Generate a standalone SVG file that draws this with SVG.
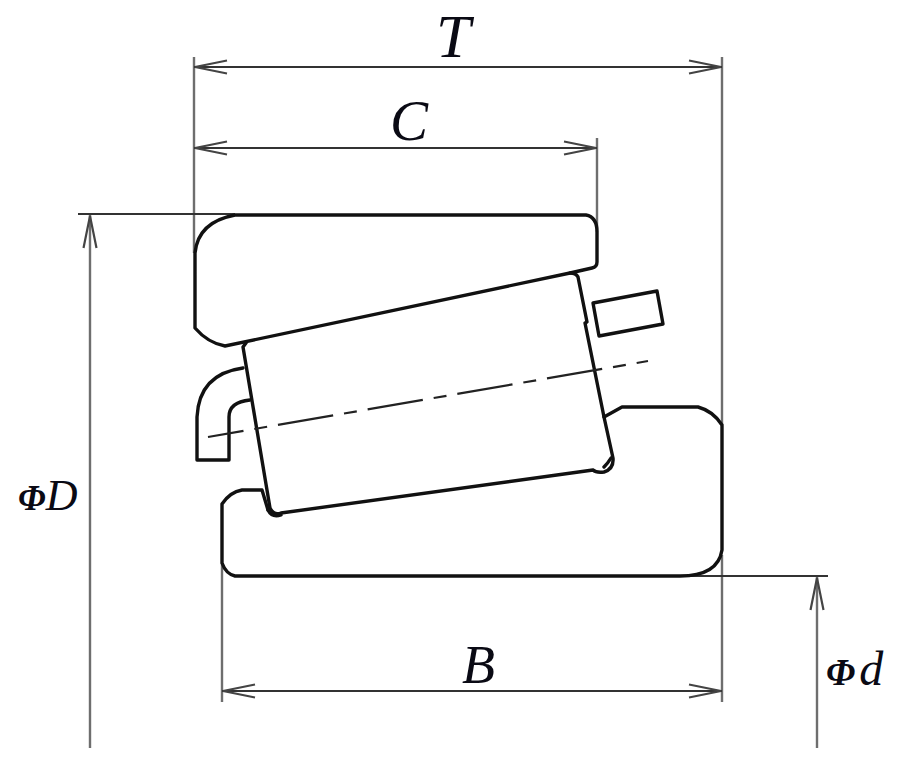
<svg xmlns="http://www.w3.org/2000/svg" width="907" height="772" viewBox="0 0 907 772">
<style>
.part{fill:none;stroke:#111;stroke-width:3.4;stroke-linejoin:round;stroke-linecap:round}
.ext{fill:none;stroke:#6e6e6e;stroke-width:2.4}
.dim{fill:none;stroke:#333;stroke-width:2}
.cl{fill:none;stroke:#222;stroke-width:2.2;stroke-dasharray:56 11 13 11;stroke-dashoffset:20}
.lab{font-family:"Liberation Serif","Times New Roman",serif;font-style:italic;fill:#0a0a14}
.phi{font-weight:bold}
</style>
<defs>
<marker id="arrow" markerUnits="userSpaceOnUse" markerWidth="36" markerHeight="18" refX="35" refY="9" orient="auto-start-reverse" viewBox="0 0 36 18">
<path d="M2 2.5 L34 9 L2 15.5" fill="none" stroke="#444" stroke-width="2.2"/>
</marker>
</defs>
<rect width="907" height="772" fill="#fff"/>
<g id="connectors">
<path class="ext" d="M194 57V253M722 57V425M597 138V232M222 563V702M722 555V702"/>
<path class="dim" d="M78 214H235M680 576H828"/>
<path class="dim" d="M194 67H722" marker-start="url(#arrow)" marker-end="url(#arrow)"/>
<path class="dim" d="M194 148H597" marker-start="url(#arrow)" marker-end="url(#arrow)"/>
<path class="dim" d="M222 691H722" marker-start="url(#arrow)" marker-end="url(#arrow)"/>
<path class="ext" d="M90 748V215" marker-end="url(#arrow)"/>
<path class="ext" d="M817 748V577" marker-end="url(#arrow)"/>
</g>
<g id="outer-ring"><path class="part" d="M235 215H586Q597 217 597 232V262Q597 267 592 268L570 273L225 346Q208 343 195 328V253Q198 222 235 215Z"/></g>
<g id="roller"><path class="part" d="M246 343L243 347L270 508Q274 516 281 513L593 470M578 277L587 322L585 323L604 417L613 458Q614 469 604 472Q596 473 593 470M570 273Q576 273 578 277"/>
<path class="part" d="M268 510Q272 518 281 515M604 467Q608 463 611 458" stroke-width="2"/></g>
<g id="cage"><path class="part" d="M243 368Q199 374 197 417V460H229V417Q229 402 250 400"/></g>
<g id="cage-end"><path class="part" d="M593 303L657 291L663 324L599 336Z"/></g>
<g id="inner-ring"><path class="part" d="M604 417L622 407H698Q713 411 722 425V550Q718 576 680 576H235Q226 574 222 563V504Q230 492 242 490H262L268 510"/></g>
<g id="axis"><path class="cl" d="M208 437L648 361"/></g>
<g id="labels">
<text class="lab" x="436" y="57" font-size="62">T</text>
<text class="lab" x="390" y="140" font-size="57">C</text>
<text class="lab" x="462" y="683" font-size="54">B</text>
<text class="lab" x="18" y="510" font-size="44"><tspan class="phi" font-size="35">Φ</tspan>D</text>
<text class="lab" x="826" y="685" font-size="48"><tspan class="phi" font-size="37">Φ</tspan><tspan dx="4">d</tspan></text>
</g>
</svg>
